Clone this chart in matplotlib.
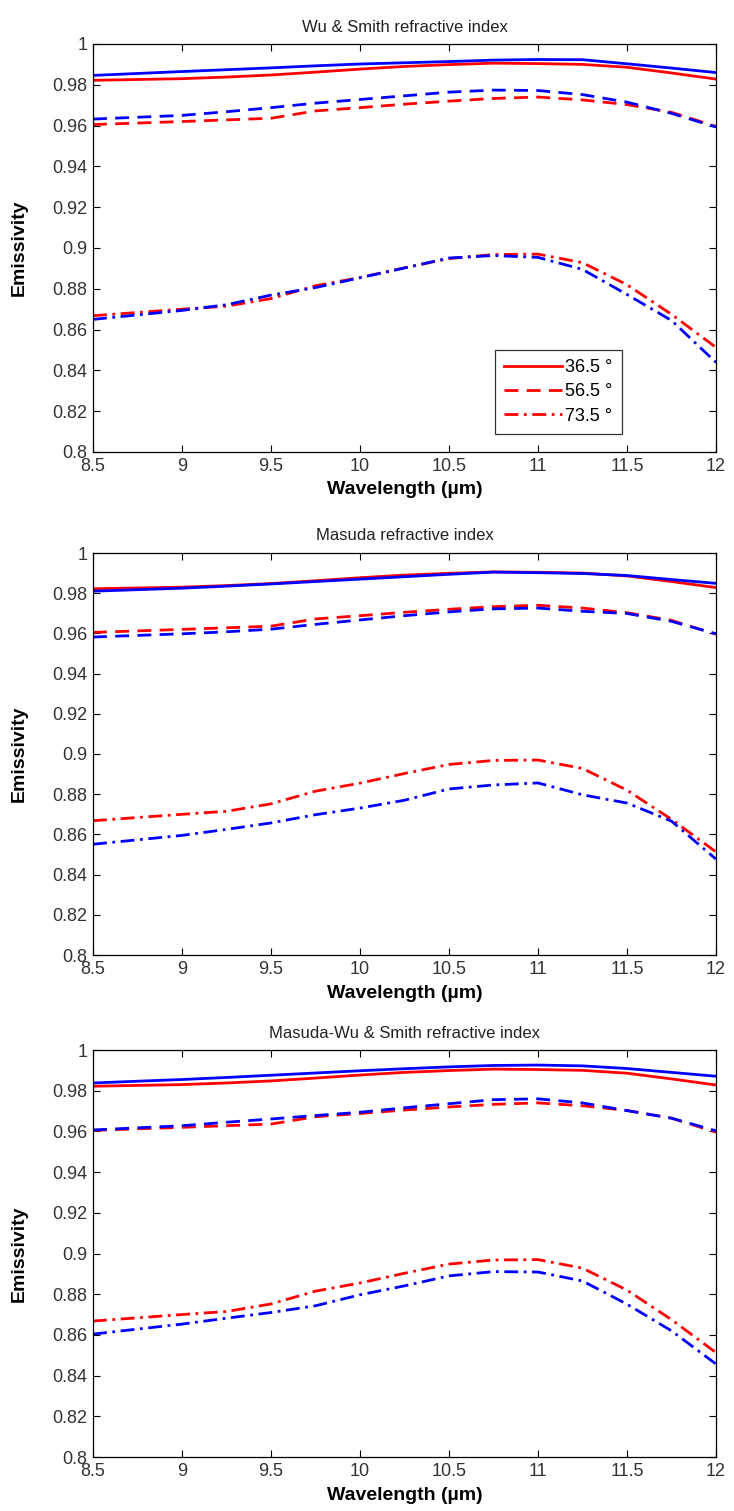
import matplotlib
matplotlib.use("Agg")
import matplotlib.pyplot as plt

plt.rcParams['font.family'] = ['Liberation Sans', 'DejaVu Sans']

wavelength = [8.5, 9, 9.25, 9.5, 9.75, 10, 10.25, 10.5, 10.75, 11, 11.25, 11.5, 11.75, 12]

titles = ["Wu & Smith refractive index", "Masuda refractive index",
          "Masuda-Wu & Smith refractive index"]
angle_labels = ["36.5 °", "56.5 °", "73.5 °"]

# red (reference) curves, same in all panels
red_365 = [0.9822, 0.9830, 0.9838, 0.9848, 0.9862, 0.9877, 0.9890, 0.9899, 0.9906, 0.9904, 0.9900, 0.9886, 0.9858, 0.9828]
red_565 = [0.9605, 0.9620, 0.9628, 0.9636, 0.9672, 0.9688, 0.9705, 0.9720, 0.9733, 0.9740, 0.9726, 0.9703, 0.9665, 0.9596]
red_735 = [0.8668, 0.8700, 0.8715, 0.8752, 0.8815, 0.8855, 0.8903, 0.8948, 0.8968, 0.8970, 0.8928, 0.8820, 0.8675, 0.8513]

# blue curves per panel
wu_365 = [0.9846, 0.9865, 0.9874, 0.9883, 0.9893, 0.9902, 0.9908, 0.9914, 0.9921, 0.9924, 0.9923, 0.9903, 0.9882, 0.9860]
wu_565 = [0.9632, 0.9650, 0.9668, 0.9688, 0.9710, 0.9728, 0.9746, 0.9764, 0.9774, 0.9772, 0.9752, 0.9715, 0.9660, 0.9593]
wu_735 = [0.8650, 0.8694, 0.8722, 0.8769, 0.8806, 0.8854, 0.8902, 0.8951, 0.8963, 0.8954, 0.8895, 0.8772, 0.8645, 0.8439]

ma_365 = [0.9810, 0.9825, 0.9835, 0.9846, 0.9858, 0.9870, 0.9882, 0.9894, 0.9905, 0.9902, 0.9898, 0.9888, 0.9868, 0.9849]
ma_565 = [0.9582, 0.9598, 0.9608, 0.9621, 0.9645, 0.9667, 0.9688, 0.9707, 0.9722, 0.9726, 0.9710, 0.9699, 0.9660, 0.9598]
ma_735 = [0.8551, 0.8595, 0.8625, 0.8657, 0.8698, 0.8731, 0.8770, 0.8826, 0.8846, 0.8856, 0.8797, 0.8756, 0.8666, 0.8477]

mw_365 = [0.9838, 0.9855, 0.9865, 0.9876, 0.9887, 0.9898, 0.9908, 0.9917, 0.9924, 0.9926, 0.9922, 0.9909, 0.9890, 0.9871]
mw_565 = [0.9607, 0.9628, 0.9645, 0.9661, 0.9678, 0.9694, 0.9716, 0.9736, 0.9756, 0.9760, 0.9740, 0.9702, 0.9665, 0.9603]
mw_735 = [0.8604, 0.8653, 0.8682, 0.8710, 0.8743, 0.8797, 0.8841, 0.8890, 0.8911, 0.8909, 0.8865, 0.8751, 0.8620, 0.8457]

xticks = [8.5, 9, 9.5, 10, 10.5, 11, 11.5, 12]
xticklabels = ["8.5", "9", "9.5", "10", "10.5", "11", "11.5", "12"]
yticks = [0.8, 0.82, 0.84, 0.86, 0.88, 0.9, 0.92, 0.94, 0.96, 0.98, 1.0]
yticklabels = ["0.8", "0.82", "0.84", "0.86", "0.88", "0.9", "0.92", "0.94", "0.96", "0.98", "1"]

blue_sets = [(wu_365, wu_565, wu_735), (ma_365, ma_565, ma_735), (mw_365, mw_565, mw_735)]
red_set = (red_365, red_565, red_735)
styles = ['-', (0, (5, 3)), (0, (5, 2, 1, 2))]

W, H = 734, 1511
fig = plt.figure(figsize=(W / 100, H / 100), dpi=100)
left = 93 / W
width = (716 - 93) / W
panels = [(44, 452), (553, 955), (1050, 1457)]

for i, (top, bot) in enumerate(panels):
    ax = fig.add_axes([left, 1 - bot / H, width, (bot - top) / H])
    lines = []
    for j in range(3):
        l, = ax.plot(wavelength, red_set[j], color='#ff0000', lw=2.0, linestyle=styles[j],
                     label=angle_labels[j])
        lines.append(l)
    for j in range(3):
        ax.plot(wavelength, blue_sets[i][j], color='#0000ff', lw=2.0, linestyle=styles[j])
    ax.set_xlim(8.5, 12)
    ax.set_ylim(0.8, 1.0)
    ax.set_xticks(xticks)
    ax.set_xticklabels(xticklabels)
    ax.set_yticks(yticks)
    ax.set_yticklabels(yticklabels)
    ax.tick_params(direction='in', length=5, width=0.8, top=True, right=True,
                   labelsize=13, labelcolor='#333333')
    ax.tick_params(axis='x', pad=4)
    ax.tick_params(axis='y', pad=4)
    for s in ax.spines.values():
        s.set_linewidth(0.9)
    ax.set_title(titles[i], fontsize=12, pad=9, color='#222222')
    ax.set_xlabel("Wavelength (µm)", fontsize=14, fontweight='bold', labelpad=5)
    ax.set_ylabel("Emissivity", fontsize=14, fontweight='bold')
    ax.yaxis.set_label_coords(-0.105, 0.5)
    if i == 0:
        leg = ax.legend(handles=lines, loc='lower left', bbox_to_anchor=(0.645, 0.045),
                        fontsize=13, frameon=True, fancybox=False, edgecolor='black',
                        handlelength=3.2, borderpad=0.5, labelspacing=0.4,
                        handletextpad=0.2, borderaxespad=0)
        leg.get_frame().set_linewidth(0.9)

fig.savefig("out.png", dpi=100)
